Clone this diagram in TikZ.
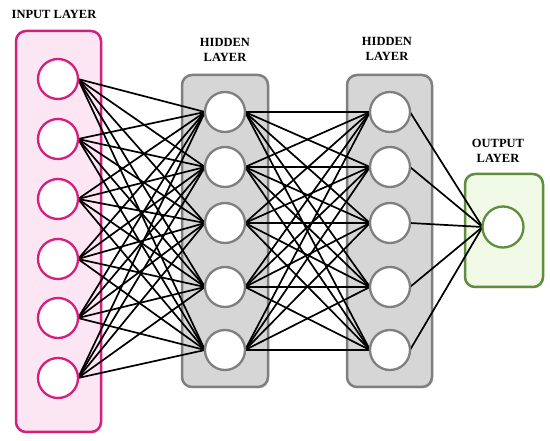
\documentclass[tikz,border=0pt]{standalone}
\usepackage{fontspec}
\setmainfont{Liberation Serif}
\newfontfamily\lblfont{Liberation Serif}
\usetikzlibrary{shadows}
\definecolor{pinkline}{HTML}{D3207F}
\definecolor{pinkfill}{HTML}{FDE6F3}
\definecolor{grayline}{HTML}{7F7F7F}
\definecolor{grayfill}{HTML}{D6D6D6}
\definecolor{greenline}{HTML}{5E8E3E}
\definecolor{greenfill}{HTML}{F0FAE6}
\begin{document}
\begin{tikzpicture}[x=1pt,y=-1pt,
  layerbox/.style={draw, rounded corners=10pt, line width=2.5pt, inner sep=0pt, outer sep=0pt,
    drop shadow={opacity=0.25, shadow xshift=1.2pt, shadow yshift=-1.5pt}},
  inbox/.style={layerbox, draw=pinkline, fill=pinkfill},
  hidbox/.style={layerbox, draw=grayline, fill=grayfill},
  outbox/.style={layerbox, draw=greenline, fill=greenfill},
  neuron/.style={circle, fill=white, minimum size=40pt, inner sep=0pt, outer sep=0pt, line width=2.3pt},
  inneuron/.style={neuron, draw=pinkline},
  hidneuron/.style={neuron, draw=grayline},
  outneuron/.style={neuron, draw=greenline, minimum size=41pt},
  link/.style={draw=black, line width=1.7pt},
  lbl/.style={font=\lblfont\fontsize{12.5}{15}\selectfont\bfseries, align=center, inner sep=0pt}
]
\useasboundingbox (0,0) rectangle (550,441);

% layer boxes
\node[inbox, minimum width=85pt, minimum height=401pt] (ibox) at (58.5,231.5) {};
\node[hidbox, minimum width=86pt, minimum height=312pt] (hbox1) at (225,231) {};
\node[hidbox, minimum width=85pt, minimum height=312pt] (hbox2) at (389.5,231) {};
\node[outbox, minimum width=78pt, minimum height=113pt] (obox) at (504,230.5) {};

% labels
\node[lbl] (tin) at (54,14) {INPUT LAYER};
\node[lbl] (th1) at (225,50) {HIDDEN\\LAYER};
\node[lbl] (th2) at (387,49) {HIDDEN\\LAYER};
\node[lbl] (tout) at (498,151) {OUTPUT\\LAYER};

% neuron coordinates
\foreach \i/\y in {1/79,2/139,3/199,4/259,5/318,6/378}
  \coordinate (ic\i) at (58,\y);
\foreach \j/\y in {1/112,2/167,3/223,4/287,5/350}{
  \coordinate (hc\j) at (225,\y);
  \coordinate (gc\j) at (390,\y);
}
% anchors for connectors
\foreach \i in {1,...,6}
  \node[neuron, draw=none, fill=none] (in\i) at (ic\i) {};
\foreach \j in {1,...,5}{
  \node[neuron, draw=none, fill=none] (ha\j) at (hc\j) {};
  \node[neuron, draw=none, fill=none] (hb\j) at (gc\j) {};
}
\node[outneuron, draw=none, fill=none] (out) at (503,227) {};

% connectors
\foreach \i in {1,...,6}
  \foreach \j in {1,...,5}
    \draw[link] (in\i.east) -- (ha\j.west);
\foreach \i in {1,...,5}
  \foreach \j in {1,...,5}
    \draw[link] (ha\i.east) -- (hb\j.west);
\foreach \j in {1,...,5}
  \draw[link] (hb\j.east) -- (out.west);

% visible neurons
\foreach \i in {1,...,6}
  \node[inneuron] (inv\i) at (ic\i) {};
\foreach \j in {1,...,5}{
  \node[hidneuron] (hav\j) at (hc\j) {};
  \node[hidneuron] (hbv\j) at (gc\j) {};
}
\node[outneuron] (outv) at (503,227) {};
\end{tikzpicture}
\end{document}
